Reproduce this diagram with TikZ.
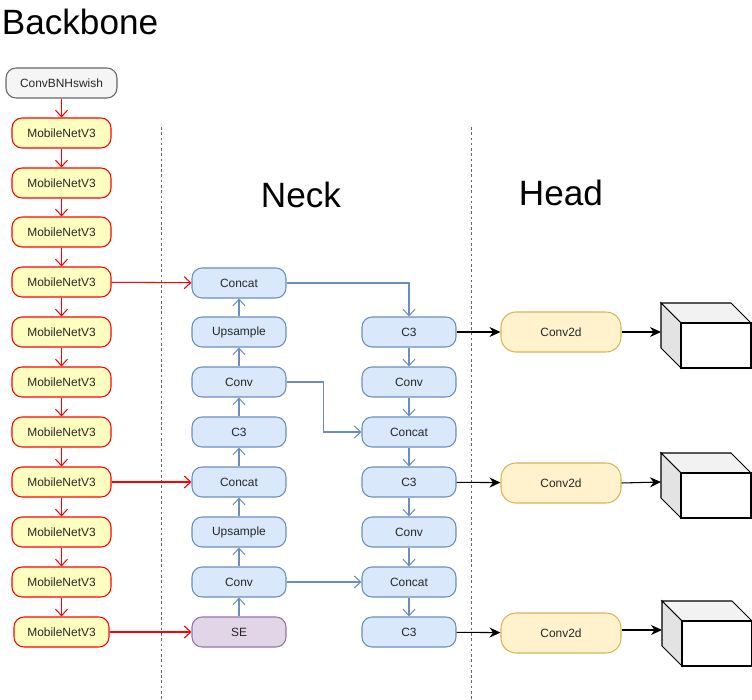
\documentclass[tikz,border=0pt]{standalone}
\usepackage{fontspec}
\setmainfont{Liberation Sans}
\usetikzlibrary{arrows.meta}

\definecolor{mbfill}{HTML}{FFFFC0}
\definecolor{nkfill}{HTML}{DAE8FC}
\definecolor{nkline}{HTML}{6C8EBF}
\definecolor{sefill}{HTML}{E1D5E7}
\definecolor{seline}{HTML}{9673A6}
\definecolor{hdfill}{HTML}{FFF2CC}
\definecolor{hdline}{HTML}{D6B656}
\definecolor{stfill}{HTML}{F5F5F5}
\definecolor{stline}{HTML}{666666}

\begin{document}
\begin{tikzpicture}[x=0.02cm,y=-0.02cm,
  every node/.style={font=\fontsize{6.8}{8}\selectfont, text=black!85},
  box/.style={draw,rounded corners=0.2cm,minimum width=1.88cm,minimum height=0.6cm,line width=0.6pt},
  stem/.style={box,fill=stfill,draw=stline,minimum width=2.22cm},
  mobile/.style={box,fill=mbfill,draw=red,minimum width=1.98cm},
  neck/.style={box,fill=nkfill,draw=nkline},
  sebox/.style={box,fill=sefill,draw=seline},
  det/.style={box,fill=hdfill,draw=hdline,minimum width=2.4cm,minimum height=0.8cm,rounded corners=0.3cm},
  title/.style={font=\fontsize{20}{24}\selectfont,text=black},
  rlink/.style={draw=red,line width=0.6pt,-{Straight Barb[length=1.3mm,width=2.4mm]}},
  blink/.style={draw=nkline,line width=0.6pt,-{Straight Barb[length=1.3mm,width=2.4mm]}},
  klink/.style={draw=black,line width=0.6pt,-{Stealth[length=2.2mm,width=2mm]}},
  sep/.style={draw=black!60,line width=0.5pt,dash pattern=on 1.5pt off 1.5pt}]
\useasboundingbox (0,0) rectangle (752,700);

% titles
\node[title] (tback) at (80,22) {Backbone};
\node[title] (tneck) at (301,195) {Neck};
\node[title] (thead) at (561,193) {Head};

% separators
\draw[sep] (161,127) -- (161,700);
\draw[sep] (471,127) -- (471,700);

% backbone
\draw (61.5,83) node[stem](stem) {ConvBNHswish};
\foreach \i/\y in {1/133,2/183,3/232,4/282,5/332,6/382,7/432,8/482,9/532,10/582}
  \draw (61.5,\y) node[mobile](mb\i) {MobileNetV3};
\draw (61.5,632) node[mobile,minimum width=1.9cm](mb11) {MobileNetV3};
\draw[rlink] (stem) -- (mb1);
\foreach \i [evaluate=\i as \j using int(\i+1)] in {1,...,10}
  \draw[rlink] (mb\i) -- (mb\j);

% neck, up path
\draw (239,283) node[neck](nconcat1) {Concat};
\draw (239,332) node[neck](nup1) {Upsample};
\draw (239,382) node[neck](nconv1) {Conv};
\draw (239,432) node[neck](nc3) {C3};
\draw (239,482) node[neck](nconcat2) {Concat};
\draw (239,532) node[neck](nup2) {Upsample};
\draw (239,582) node[neck](nconv2) {Conv};
\draw (239,632) node[sebox](se) {SE};

% neck, down path
\draw (409,332) node[neck](hc3a) {C3};
\draw (409,382) node[neck](hconv1) {Conv};
\draw (409,432) node[neck](hconcat1) {Concat};
\draw (409,482) node[neck](hc3b) {C3};
\draw (409,532) node[neck](hconv2) {Conv};
\draw (409,582) node[neck](hconcat2) {Concat};
\draw (409,632) node[neck](hc3c) {C3};

% head
\draw (561,332) node[det](det1) {Conv2d};
\draw (561,483) node[det](det2) {Conv2d};
\draw (561,633) node[det](det3) {Conv2d};

% backbone to neck
\draw[rlink] (mb4) -- (nconcat1);
\draw[rlink] (mb8) -- (nconcat2);
\draw[rlink] (mb11) -- (se);

% up path
\draw[blink] (se) -- (nconv2);
\draw[blink] (nconv2) -- (nup2);
\draw[blink] (nup2) -- (nconcat2);
\draw[blink] (nconcat2) -- (nc3);
\draw[blink] (nc3) -- (nconv1);
\draw[blink] (nconv1) -- (nup1);
\draw[blink] (nup1) -- (nconcat1);

% down path
\draw[blink] (nconcat1.east) -| (hc3a.north);
\draw[blink] (hc3a) -- (hconv1);
\draw[blink] (hconv1) -- (hconcat1);
\draw[blink] (hconcat1) -- (hc3b);
\draw[blink] (hc3b) -- (hconv2);
\draw[blink] (hconv2) -- (hconcat2);
\draw[blink] (hconcat2) -- (hc3c);
\draw[blink] (nconv1.east) -- ++(37,0) |- (hconcat1.west);
\draw[blink] (nconv2.east) -- (hconcat2.west);

% to head
\draw[klink] (hc3a) -- (det1);
\draw[klink] (hc3b) -- (det2);
\draw[klink] (hc3c) -- (det3);

% output cubes
\foreach \k/\x/\y in {1/681/323,2/681/473,3/682/621}{
  \fill[white] (\x,\y) rectangle ++(70,45);
  \filldraw[fill=black!5,line width=0.6pt] (\x-20,\y-20) -- (\x+50,\y-20) -- (\x+70,\y) -- (\x,\y) -- cycle;
  \filldraw[fill=black!11,line width=0.6pt] (\x-20,\y-20) -- (\x,\y) -- (\x,\y+45) -- (\x-20,\y+25) -- cycle;
  \draw[line width=0.6pt] (\x,\y) rectangle ++(70,45);
}
\coordinate (out1) at (661,332);
\coordinate (out2) at (661,482);
\coordinate (out3) at (662,630);
\draw[klink] (det1.east) -- (out1);
\draw[klink] (det2.east) -- (out2);
\draw[klink] (det3.east |- out3) -- (out3);
\end{tikzpicture}
\end{document}
